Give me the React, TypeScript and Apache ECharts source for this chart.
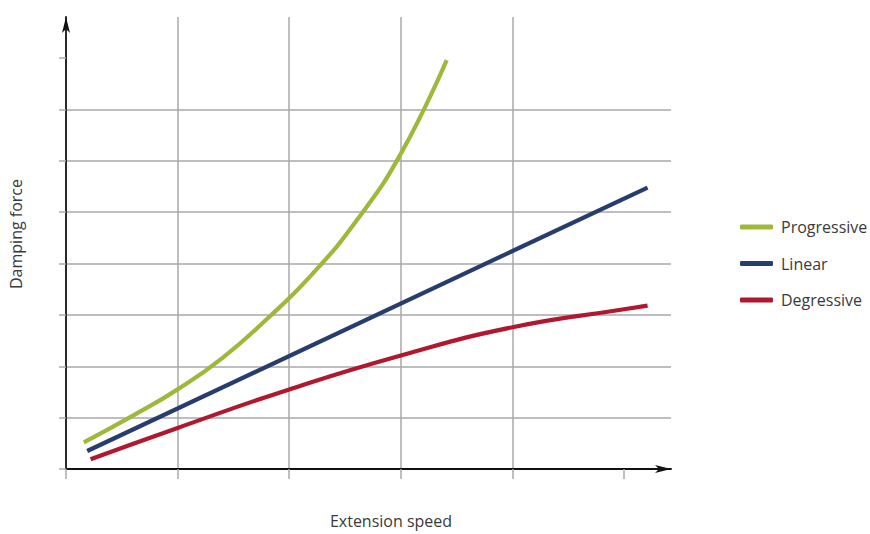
import React, { useEffect, useRef } from "react";
import * as echarts from "echarts";

const seriesNames = ["Progressive", "Linear", "Degressive"];
const seriesColors = ["#9db83b", "#273d6d", "#b0182f"];

const progressive: [number, number][] = [
  [0.16, 0.52], [0.6, 1.04], [1.0, 1.55], [1.4, 2.16], [1.8, 2.92],
  [2.2, 3.78], [2.6, 4.83], [3.0, 6.14], [3.41, 7.96],
];
const linear: [number, number][] = [
  [0.19, 0.35], [5.21, 5.48],
];
const degressive: [number, number][] = [
  [0.22, 0.19], [1.0, 0.8], [2.0, 1.55], [3.0, 2.21], [4.0, 2.76], [5.0, 3.11], [5.21, 3.18],
];

const xTicks = [0, 1, 2, 3, 4, 5];
const yTicks = [0, 1, 2, 3, 4, 5, 6, 7, 8];
const xName = "Extension speed";
const yName = "Damping force";

export default function App() {
  const ref = useRef<HTMLDivElement>(null);
  useEffect(() => {
    if (!ref.current) return;
    const chart = echarts.init(ref.current, null, { renderer: "svg" });
    const grey = "#a8a8a8";
    const font = "'Open Sans', 'Noto Sans', sans-serif";
    const datasets = [progressive, linear, degressive];
    chart.setOption({
      animation: false,
      backgroundColor: "#ffffff",
      grid: { left: 66, right: 199, top: 17, bottom: 64, containLabel: false },
      legend: {
        orient: "vertical",
        left: 735,
        top: 214,
        icon: "roundRect",
        itemWidth: 33,
        itemHeight: 5,
        itemGap: 20.5,
        textStyle: { fontFamily: font, fontSize: 16, color: "#3a3a3a", padding: [0, 0, 0, 3] },
        data: seriesNames,
      },
      xAxis: {
        type: "value",
        min: 0,
        max: 5.42,
        interval: 1,
        name: xName,
        nameLocation: "middle",
        nameGap: 44,
        nameTextStyle: { fontFamily: font, fontSize: 16, color: "#3a3a3a", padding: [0, 0, 0, 45] },
        axisLine: {
          show: true,
          symbol: ["none", "arrow"],
          symbolSize: [6, 16],
          lineStyle: { color: "#111111", width: 1.8 },
        },
        axisTick: { show: true, length: 10, inside: false, customValues: xTicks, lineStyle: { color: grey, width: 1.5 } },
        axisLabel: { show: false },
        splitLine: { show: true, showMinLine: false, showMaxLine: false, lineStyle: { color: grey, width: 1.5 } },
      },
      yAxis: {
        type: "value",
        min: 0,
        max: 8.8,
        interval: 1,
        name: yName,
        nameLocation: "middle",
        nameGap: 42,
        nameTextStyle: { fontFamily: font, fontSize: 16, color: "#3a3a3a", padding: [0, 0, 0, 18] },
        axisLine: {
          show: true,
          symbol: ["none", "arrow"],
          symbolSize: [6, 16],
          lineStyle: { color: "#111111", width: 1.8 },
        },
        axisTick: { show: true, length: 7, inside: false, customValues: yTicks, lineStyle: { color: grey, width: 1.5 } },
        axisLabel: { show: false },
        splitLine: { show: true, showMinLine: false, showMaxLine: false, lineStyle: { color: grey, width: 1.5 } },
      },
      series: seriesNames.map((name, i) => ({
        name,
        type: "line",
        data: datasets[i],
        smooth: i === 1 ? false : 0.5,
        symbol: "none",
        color: seriesColors[i],
        itemStyle: { color: seriesColors[i] },
        lineStyle: { color: seriesColors[i], width: 4.2 },
        z: 3 - i,
      })),
    });
    return () => chart.dispose();
  }, []);
  return (
    <div
      ref={ref}
      style={{ position: "absolute", left: 0, top: 0, width: 870, height: 534 }}
    />
  );
}
